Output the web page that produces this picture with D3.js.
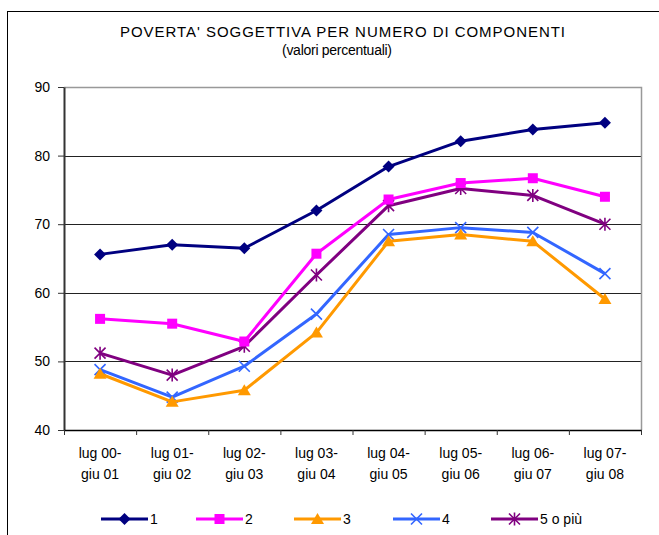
<!DOCTYPE html>
<html>
<head>
<meta charset="utf-8">
<script src="https://cdn.jsdelivr.net/npm/d3@7"></script>
<style>
  body { margin: 0; background: #fff; }
  svg text { font-family: "Liberation Sans", Arial, sans-serif; fill: #000; }
</style>
</head>
<body>
<svg id="chart" width="659" height="535"></svg>
<script>
// data
var labelsTop = ["lug 00-", "lug 01-", "lug 02-", "lug 03-", "lug 04-", "lug 05-", "lug 06-", "lug 07-"];
var labelsBottom = ["giu 01", "giu 02", "giu 03", "giu 04", "giu 05", "giu 06", "giu 07", "giu 08"];
var yTicks = [40, 50, 60, 70, 80, 90];

var uno = [65.6, 67.0, 66.5, 72.0, 78.4, 82.1, 83.8, 84.8];
var due = [56.2, 55.5, 52.9, 65.7, 73.6, 76.0, 76.7, 74.0];
var tre = [48.2, 44.1, 45.8, 54.2, 67.5, 68.5, 67.5, 59.1];
var quattro = [48.8, 44.8, 49.3, 56.9, 68.5, 69.5, 68.8, 62.8];
var cinque = [51.2, 48.0, 52.2, 62.6, 72.7, 75.2, 74.2, 70.0];

var seriesNames = ["1", "2", "3", "4", "5 o più"];
var seriesValues = [uno, due, tre, quattro, cinque];
var colors = ["#000080", "#ff00ff", "#ff9900", "#3366ff", "#800080"];
var markers = ["diamond", "square", "triangle", "x", "star"];

// plot area
var pLeft = 64, pRight = 641, pTop = 87, pBottom = 430;

var svg = d3.select("#chart");

// outer frame
svg.append("rect")
    .attr("x", 7.5).attr("y", 11.5)
    .attr("width", 700).attr("height", 600)
    .attr("fill", "none").attr("stroke", "#000");

// title
svg.append("text")
    .attr("x", 120).attr("y", 37)
    .attr("font-size", 15)
    .attr("textLength", 445)
    .attr("lengthAdjust", "spacing")
    .text("POVERTA' SOGGETTIVA PER NUMERO DI COMPONENTI");
svg.append("text")
    .attr("x", 337).attr("y", 55)
    .attr("text-anchor", "middle")
    .attr("font-size", 14)
    .attr("textLength", 110)
    .text("(valori percentuali)");

var x = d3.scaleBand()
    .domain(d3.range(labelsTop.length))
    .range([pLeft, pRight])
    .padding(0);
var xb = d3.scaleLinear().domain([0, labelsTop.length]).range([pLeft, pRight]);
var y = d3.scaleLinear().domain([40, 90]).range([pBottom, pTop]);

function cx(i) { return x(i) + x.bandwidth() / 2; }

// gridlines
svg.append("g").selectAll("line")
    .data(yTicks.filter(function(d) { return d > 40 && d < 90; }))
  .enter().append("line")
    .attr("x1", pLeft).attr("x2", pRight)
    .attr("y1", function(d) { return Math.round(y(d)) + 0.5; })
    .attr("y2", function(d) { return Math.round(y(d)) + 0.5; })
    .attr("stroke", "#222").attr("stroke-width", 1);

// plot border top / right
svg.append("path")
    .attr("d", "M" + pLeft + "," + (pTop + 0.5) + "H" + (pRight + 0.5) + "V" + pBottom)
    .attr("fill", "none").attr("stroke", "#999").attr("stroke-width", 1.5);

// y axis
var yAxis = svg.append("g")
    .attr("transform", "translate(" + pLeft + ",0)")
    .call(d3.axisLeft(y).tickValues(yTicks).tickSize(6).tickPadding(8).tickSizeOuter(0));
yAxis.select(".domain").attr("stroke", "#333").attr("stroke-width", 2);
yAxis.selectAll(".tick line").attr("stroke", "#333");
yAxis.selectAll("text").attr("font-size", 14).attr("font-family", "Liberation Sans, Arial, sans-serif");

// x axis
var xAxis = svg.append("g")
    .attr("transform", "translate(0," + pBottom + ")")
    .call(d3.axisBottom(xb).tickValues(d3.range(labelsTop.length + 1)).tickSize(5).tickFormat("").tickSizeOuter(0));
xAxis.select(".domain").attr("stroke", "#000").attr("stroke-width", 1.5);
xAxis.selectAll(".tick line").attr("stroke", "#333");

var xl = svg.append("g").selectAll("text")
    .data(d3.range(labelsTop.length))
  .enter().append("text")
    .attr("x", cx)
    .attr("text-anchor", "middle")
    .attr("font-size", 14);
xl.append("tspan").attr("x", cx).attr("y", 458).text(function(i) { return labelsTop[i]; });
xl.append("tspan").attr("x", cx).attr("y", 479).text(function(i) { return labelsBottom[i]; });

// markers
function drawMarker(g, type, color) {
  if (type === "diamond") {
    g.append("path").attr("d", "M0,-6L6,0L0,6L-6,0Z").attr("fill", color);
  } else if (type === "square") {
    g.append("rect").attr("x", -5).attr("y", -5).attr("width", 10).attr("height", 10).attr("fill", color);
  } else if (type === "triangle") {
    g.append("path").attr("d", "M0,-6L6.5,5L-6.5,5Z").attr("fill", color);
  } else if (type === "x") {
    g.append("path").attr("d", "M-5.5,-5.5L5.5,5.5M-5.5,5.5L5.5,-5.5")
      .attr("stroke", color).attr("stroke-width", 1.6).attr("fill", "none");
  } else if (type === "star") {
    g.append("path").attr("d", "M-5.5,-5.5L5.5,5.5M-5.5,5.5L5.5,-5.5M0,-6.5V6.5")
      .attr("stroke", color).attr("stroke-width", 1.6).attr("fill", "none");
  }
}

var line = d3.line()
    .x(function(d, i) { return cx(i); })
    .y(function(d) { return y(d); });

// draw series (back to front: 5,4,3,2,1)
var order = [4, 3, 2, 1, 0];
order.forEach(function(s) {
  svg.append("path")
      .datum(seriesValues[s])
      .attr("d", line)
      .attr("fill", "none")
      .attr("stroke", colors[s])
      .attr("stroke-width", 3)
      .attr("stroke-linejoin", "round");
  seriesValues[s].forEach(function(v, i) {
    var g = svg.append("g").attr("transform", "translate(" + cx(i) + "," + y(v) + ")");
    drawMarker(g, markers[s], colors[s]);
  });
});

// legend
var legendX = [101, 196, 294, 393, 491];
var legendY = 519;
seriesNames.forEach(function(name, s) {
  var lg = svg.append("g").attr("transform", "translate(" + legendX[s] + "," + legendY + ")");
  lg.append("line").attr("x1", 0).attr("x2", 47).attr("y1", 0).attr("y2", 0)
    .attr("stroke", colors[s]).attr("stroke-width", 3);
  var m = lg.append("g").attr("transform", "translate(23.5,0)");
  drawMarker(m, markers[s], colors[s]);
  lg.append("text").attr("x", 49).attr("y", 5).attr("font-size", 14).text(name);
});
</script>
</body>
</html>
